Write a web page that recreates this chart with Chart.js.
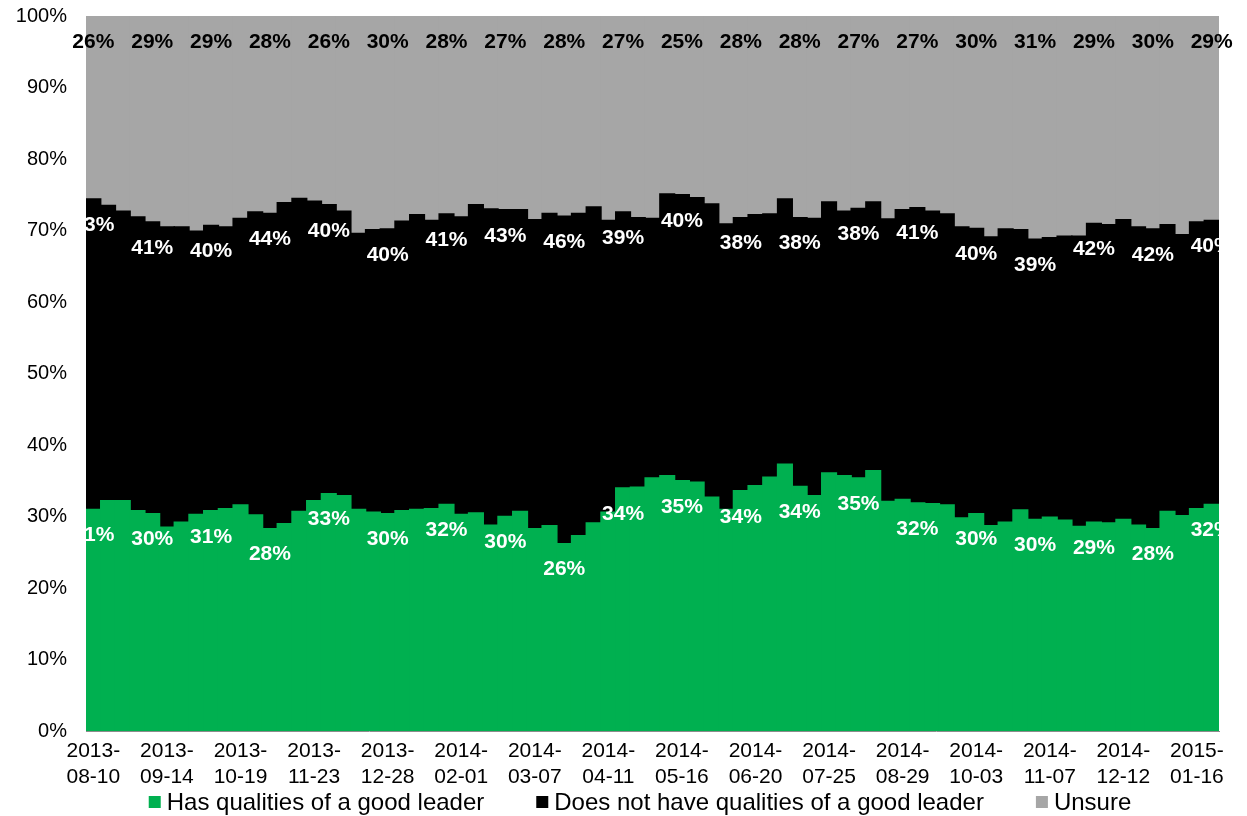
<!DOCTYPE html>
<html>
<head>
<meta charset="utf-8">
<script src="https://cdn.jsdelivr.net/npm/chart.js@4.4.1/dist/chart.umd.min.js"></script>
<style>
  html, body { margin: 0; padding: 0; background: #fff; }
  #wrap { width: 1247px; height: 816px; position: relative; }
</style>
</head>
<body>
<div id="wrap"><canvas id="c" width="1247" height="816"></canvas></div>
<script>
const categories = [
  "2013-08-10","2013-08-17","2013-08-24","2013-08-31","2013-09-07",
  "2013-09-14","2013-09-21","2013-09-28","2013-10-05","2013-10-12",
  "2013-10-19","2013-10-26","2013-11-02","2013-11-09","2013-11-16",
  "2013-11-23","2013-11-30","2013-12-07","2013-12-14","2013-12-21",
  "2013-12-28","2014-01-04","2014-01-11","2014-01-18","2014-01-25",
  "2014-02-01","2014-02-08","2014-02-15","2014-02-22","2014-03-01",
  "2014-03-07","2014-03-14","2014-03-21","2014-03-28","2014-04-04",
  "2014-04-11","2014-04-18","2014-04-25","2014-05-02","2014-05-09",
  "2014-05-16","2014-05-23","2014-05-30","2014-06-06","2014-06-13",
  "2014-06-20","2014-06-27","2014-07-04","2014-07-11","2014-07-18",
  "2014-07-25","2014-08-01","2014-08-08","2014-08-15","2014-08-22",
  "2014-08-29","2014-09-05","2014-09-12","2014-09-19","2014-09-26",
  "2014-10-03","2014-10-10","2014-10-17","2014-10-24","2014-10-31",
  "2014-11-07","2014-11-14","2014-11-21","2014-11-28","2014-12-05",
  "2014-12-12","2014-12-19","2014-12-26","2015-01-02","2015-01-09",
  "2015-01-16","2015-01-23"
];

const hasQualities = [
  31.0,32.2,32.2,30.8,30.4,28.5,29.2,30.3,30.8,31.1,
  31.6,30.2,28.3,29.0,30.7,32.2,33.2,32.9,31.0,30.6,
  30.4,30.8,31.0,31.1,31.7,30.3,30.5,28.8,30.0,30.7,
  28.3,28.7,26.2,27.3,29.1,30.6,34.0,34.1,35.4,35.7,
  35.0,34.8,32.7,31.0,33.6,34.3,35.5,37.3,34.2,32.9,
  36.1,35.7,35.4,36.4,32.1,32.4,31.9,31.8,31.6,29.8,
  30.4,28.7,29.2,30.9,29.6,29.9,29.5,28.6,29.2,29.1,
  29.6,28.8,28.3,30.7,30.1,31.1,31.7
];

const notQualities = [
  43.4,41.3,40.5,41.1,40.8,42.0,41.3,39.6,39.9,39.4,
  40.1,42.4,44.1,44.9,43.8,41.9,40.4,39.8,38.6,39.5,
  39.8,40.5,41.2,40.3,40.6,41.6,43.1,44.2,42.9,42.2,
  43.2,43.7,45.8,45.1,44.2,40.8,38.6,37.7,36.3,39.4,
  40.0,39.8,41.0,39.9,38.2,37.9,36.8,37.1,37.6,38.8,
  37.9,37.0,37.7,37.6,39.5,40.5,41.3,40.9,40.7,40.7,
  39.9,40.4,41.0,39.2,39.2,39.1,39.7,40.6,41.8,41.7,
  41.9,41.7,41.9,40.1,39.3,40.1,39.7
];

const unsure = [
  25.6,26.5,27.3,28.1,28.8,29.5,29.5,30.1,29.3,29.5,
  28.3,27.4,27.6,26.1,25.5,25.9,26.4,27.3,30.4,29.9,
  29.8,28.7,27.8,28.6,27.7,28.1,26.4,27.0,27.1,27.1,
  28.5,27.6,28.0,27.6,26.7,28.6,27.4,28.2,28.3,24.9,
  25.0,25.4,26.3,29.1,28.2,27.8,27.7,25.6,28.2,28.3,
  26.0,27.3,26.9,26.0,28.4,27.1,26.8,27.3,27.7,29.5,
  29.7,30.9,29.8,29.9,31.2,31.0,30.8,30.8,29.0,29.2,
  28.5,29.5,29.8,29.2,30.6,28.8,28.6
];

const seriesNames = [
  "Has qualities of a good leader",
  "Does not have qualities of a good leader",
  "Unsure"
];

const FONT = '"Liberation Sans", Arial, sans-serif';

const dataLabelPlugin = {
  id: 'dataLabels',
  afterDatasetsDraw(chart) {
    const ctx = chart.ctx;
    const a = chart.chartArea;
    chart.data.datasets.forEach((ds, di) => {
      const meta = chart.getDatasetMeta(di);
      ctx.save();
      if (di < 2) {
        ctx.beginPath();
        ctx.rect(a.left, a.top, a.right - a.left, a.bottom - a.top);
        ctx.clip();
      }
      ctx.font = 'bold 21px ' + FONT;
      ctx.fillStyle = di === 2 ? '#000000' : '#ffffff';
      ctx.textAlign = 'center';
      ctx.textBaseline = 'middle';
      meta.data.forEach((bar, i) => {
        if (i % 4 !== 0) return;
        const top = Math.min(bar.y, bar.base);
        ctx.fillText(Math.round(ds.data[i]) + '%', bar.x, top + 26);
      });
      ctx.restore();
    });
  }
};

const legendPlugin = {
  id: 'customLegend',
  afterDraw(chart) {
    const ctx = chart.ctx;
    ctx.save();
    ctx.font = '24px ' + FONT;
    ctx.textBaseline = 'middle';
    ctx.textAlign = 'left';
    const box = 12, gapBox = 6, gap = 52;
    const items = chart.data.datasets.map(ds => ({
      text: ds.label, color: ds.backgroundColor,
      w: box + gapBox + ctx.measureText(ds.label).width
    }));
    const total = items.reduce((s, it) => s + it.w, 0) + gap * (items.length - 1);
    let x = 640 - total / 2;
    const y = 802;
    items.forEach(it => {
      ctx.fillStyle = it.color;
      ctx.fillRect(x, y - box / 2, box, box);
      ctx.fillStyle = '#000';
      ctx.fillText(it.text, x + box + gapBox, y + 1);
      x += it.w + gap;
    });
    ctx.restore();
  }
};

new Chart(document.getElementById('c'), {
  type: 'bar',
  data: {
    labels: categories,
    datasets: [
      { label: seriesNames[0], data: hasQualities, backgroundColor: '#00B050' },
      { label: seriesNames[1], data: notQualities, backgroundColor: '#000000' },
      { label: seriesNames[2], data: unsure, backgroundColor: '#A6A6A6' }
    ]
  },
  options: {
    responsive: false,
    animation: false,
    devicePixelRatio: 1,
    layout: { padding: { top: 16, right: 28, bottom: 29, left: 0 } },
    datasets: { bar: { barPercentage: 1.0, categoryPercentage: 1.0, borderWidth: 0, inflateAmount: 0.7 } },
    plugins: {
      legend: { display: false },
      title: { display: false },
      tooltip: { enabled: false }
    },
    scales: {
      x: {
        stacked: true,
        grid: { display: false, drawTicks: false },
        border: { display: true, color: '#8C8C8C', width: 1 },
        ticks: {
          autoSkip: false,
          maxRotation: 0,
          minRotation: 0,
          padding: 8,
          color: '#000',
          font: { family: FONT, size: 21, lineHeight: 1.2 },
          callback: function(value, index) {
            if (index % 5 !== 0) return '';
            const s = categories[index];
            return [s.slice(0, 5), s.slice(5)];
          }
        },
        afterFit(scale) {
          scale.height = 56;
          scale.paddingTop = 0;
          scale.paddingBottom = 0;
        }
      },
      y: {
        stacked: true,
        min: 0,
        max: 100,
        grid: { display: false, drawTicks: false },
        border: { display: true, color: '#8C8C8C', width: 1 },
        ticks: {
          stepSize: 10,
          padding: 19,
          color: '#000',
          font: { family: FONT, size: 20 },
          callback: v => v + '%'
        },
        afterFit(scale) {
          scale.width = 86;
          scale.paddingTop = 0;
          scale.paddingBottom = 0;
        }
      }
    }
  },
  plugins: [dataLabelPlugin, legendPlugin]
});
</script>
</body>
</html>
